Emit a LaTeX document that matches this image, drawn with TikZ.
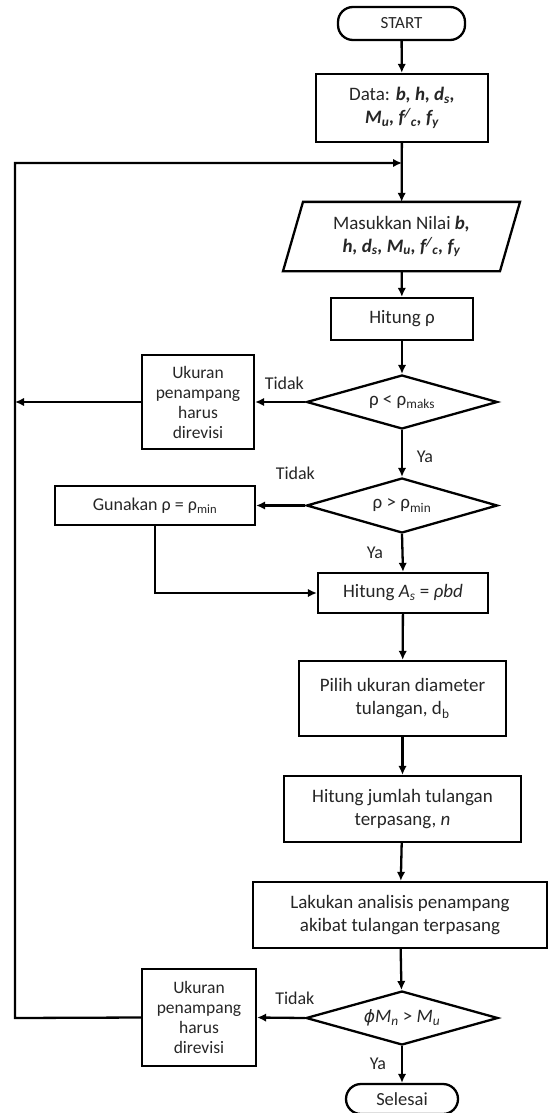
\documentclass[tikz,border=0pt]{standalone}
\usepackage{fontspec}
\setmainfont{Carlito}
\newfontfamily\phifont[Scale=0.9]{DejaVu Sans}
\usetikzlibrary{arrows.meta,shapes.geometric,calc}
\newcommand{\bi}[1]{\textbf{\textit{#1}}}
\begin{document}
\begin{tikzpicture}[x=1pt,y=-1pt,
  line width=2.3pt,
  every node/.style={font=\fontsize{19}{23}\selectfont, text=black!85},
  box/.style={draw, rectangle, align=center, inner sep=2pt, line width=2.3pt},
  smallbox/.style={box, font=\fontsize{17.5}{20}\selectfont},
  decision/.style={draw, diamond, shape aspect=3.3, inner sep=0pt, align=center,
    minimum width=191pt, minimum height=55pt, line width=2.3pt},
  term/.style={draw, rectangle, rounded corners=15pt, align=center, line width=2.3pt},
  flow/.style={-{Latex[length=9pt,width=8.5pt]}},
  lbl/.style={inner sep=0pt, font=\fontsize{18}{21}\selectfont}
]
\useasboundingbox (0,0) rectangle (550,1113);

% main column
\node[term, minimum width=127pt, minimum height=33pt, font=\fontsize{17}{20}\selectfont]
  (start) at (401.5,23.5) {START};
\node[box, minimum width=172pt, minimum height=68pt] (data) at (402,108)
  {Data: \bi{b, h, d\textsubscript{s},}\\ \bi{M\textsubscript{u}, f\textsuperscript{/}\textsubscript{c}, f\textsubscript{y}}};
\coordinate (join) at (402,163);
\node[align=center, minimum width=200pt, minimum height=67pt, inner sep=0pt] (input) at (401.5,236.5)
  {Masukkan Nilai \bi{b,}\\ \bi{h, d\textsubscript{s}, M\textsubscript{u}, f\textsuperscript{/}\textsubscript{c}, f\textsubscript{y}}};
\draw[line join=miter] ([xshift=-118.5pt]input.south) -- ([xshift=-98.5pt]input.north)
  -- ([xshift=118.5pt]input.north) -- ([xshift=98.5pt]input.south) -- cycle;
\node[box, minimum width=142pt, minimum height=42pt] (rho) at (402,319) {Hitung ρ};
\node[decision, minimum height=54pt] (dec1) at (402,402) {ρ < ρ\textsubscript{maks}};
\node[smallbox, minimum width=112pt, minimum height=94pt] (uk1) at (198,402)
  {Ukuran\\penampang\\harus\\direvisi};
\node[decision] (dec2) at (402,505.5) {ρ > ρ\textsubscript{min}};
\node[box, font=\fontsize{18}{21}\selectfont, minimum width=200pt, minimum height=39pt] (gun) at (155,505.5)
  {Gunakan ρ = ρ\textsubscript{min}};
\node[box, minimum width=170pt, minimum height=40pt] (as) at (403,593)
  {Hitung \textit{A\textsubscript{s}} = \textit{ρbd}};
\node[box, minimum width=207pt, minimum height=75pt] (pilih) at (402.5,698.5)
  {Pilih ukuran diameter\\tulangan, d\textsubscript{b}};
\node[box, minimum width=237pt, minimum height=66pt] (jumlah) at (402.5,809)
  {Hitung jumlah tulangan\\terpasang, \textit{n}};
\node[box, minimum width=294pt, minimum height=66pt] (lakukan) at (400,915)
  {Lakukan analisis penampang\\akibat tulangan terpasang};
\node[decision, minimum width=192pt, minimum height=54pt] (dec3) at (402,1018)
  {{\phifont\itshape ϕ}\textit{M\textsubscript{n}} > \textit{M\textsubscript{u}}};
\node[smallbox, minimum width=114pt, minimum height=97pt] (uk3) at (199,1017.5)
  {Ukuran\\penampang\\harus\\direvisi};
\node[term, minimum width=112pt, minimum height=30pt, font=\fontsize{18.5}{21}\selectfont]
  (end) at (402,1099) {Selesai};

% loop-back rail on the left
\coordinate (railT) at (15,163);
\coordinate (railB) at (15,1018);

% connectors
\draw[flow] (start) -- (data);
\draw[flow] (data) -- (input);
\draw[flow] (input) -- (rho);
\draw[flow] (rho) -- (dec1);
\draw[flow] (dec1.west) -- (uk1.east);
\draw[flow] (uk1.west) -- (uk1.west -| railT);
\draw[flow] (dec1.south) -- (dec2.north);
\draw[flow] (dec2.west) -- (gun.east);
\draw[flow] (gun.south) |- (as.west);
\draw[flow] (dec2.south) -- (as.north);
\draw[flow] (as) -- (pilih);
\draw[flow] (pilih) -- (jumlah);
\draw[flow] (jumlah) -- (lakukan);
\draw[flow] (lakukan) -- (dec3);
\draw[flow] (dec3.west) -- (uk3.east);
\draw[flow] (uk3.west) -- (railB) -- (railT) -- (join);
\draw[flow] (dec3.south) -- (end.north);

% branch labels
\node[lbl] at ($(dec1.west)+(-21,-19)$) {Tidak};
\node[lbl] at ($(dec1.south)+(23,27)$) {Ya};
\node[lbl] at ($(dec2.west)+(-10,-32.5)$) {Tidak};
\node[lbl] at ($(dec2.south)+(-27,19)$) {Ya};
\node[lbl] at ($(dec3.west)+(-10,-20)$) {Tidak};
\node[lbl] at ($(dec3.south)+(-24,18)$) {Ya};
\end{tikzpicture}
\end{document}
